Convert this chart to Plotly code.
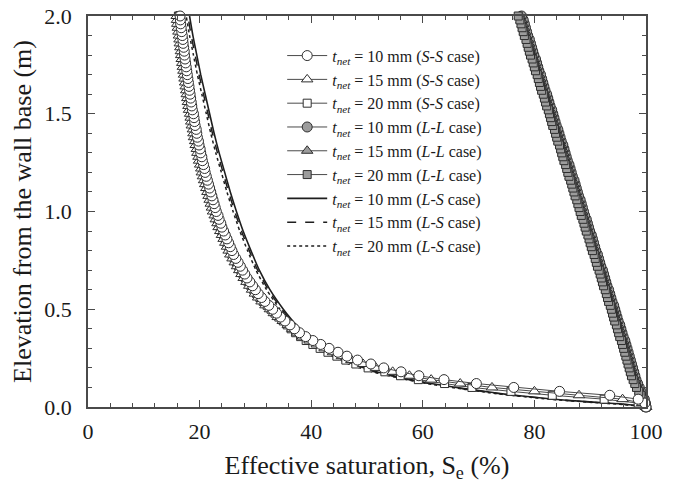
import plotly.graph_objects as go

# Elevation grid (m) for the marker series
H = [0.00, 0.02, 0.04, 0.06, 0.08, 0.10, 0.12, 0.14, 0.16, 0.18,
     0.20, 0.22, 0.24, 0.26, 0.28, 0.30, 0.32, 0.34, 0.36, 0.38,
     0.40, 0.42, 0.44, 0.46, 0.48, 0.50, 0.52, 0.54, 0.56, 0.58,
     0.60, 0.62, 0.64, 0.66, 0.68, 0.70, 0.72, 0.74, 0.76, 0.78,
     0.80, 0.82, 0.84, 0.86, 0.88, 0.90, 0.92, 0.94, 0.96, 0.98,
     1.00, 1.02, 1.04, 1.06, 1.08, 1.10, 1.12, 1.14, 1.16, 1.18,
     1.20, 1.22, 1.24, 1.26, 1.28, 1.30, 1.32, 1.34, 1.36, 1.38,
     1.40, 1.42, 1.44, 1.46, 1.48, 1.50, 1.52, 1.54, 1.56, 1.58,
     1.60, 1.62, 1.64, 1.66, 1.68, 1.70, 1.72, 1.74, 1.76, 1.78,
     1.80, 1.82, 1.84, 1.86, 1.88, 1.90, 1.92, 1.94, 1.96, 1.98, 2.00]

# S-S case, effective saturation (%)
SS10 = [100.0, 99.8, 98.6, 93.5, 84.5, 76.3, 69.6, 63.8, 59.3, 56.1, 53.0, 50.7, 48.3, 46.4, 44.8, 43.2,
        41.7, 40.3, 39.0, 37.9, 37.0, 36.2, 35.3, 34.5, 33.8, 33.1,
        32.4, 31.7, 31.1, 30.5, 30.0, 29.5, 29.0, 28.5, 28.1, 27.7, 27.3, 26.9, 26.5, 26.1, 25.8, 25.5, 25.2,
        24.9, 24.6, 24.3, 24.0, 23.8, 23.5, 23.3, 23.0,
        22.8, 22.6, 22.4, 22.2, 22.0, 21.8, 21.6, 21.4, 21.2, 21.0, 20.9, 20.7, 20.5, 20.4, 20.2, 20.1, 19.9,
        19.8, 19.6, 19.5, 19.4, 19.2, 19.1, 19.0, 18.9,
        18.7, 18.6, 18.5, 18.4, 18.3, 18.2, 18.1, 18.0, 17.9, 17.8, 17.7, 17.6, 17.5, 17.4, 17.3, 17.25, 17.15,
        17.05, 17.0, 16.9, 16.8, 16.7, 16.6, 16.55, 16.5]
SS15 = [100.0, 99.3, 95.8, 88.0, 80.0, 72.4, 66.7, 61.5, 57.6, 54.6, 51.6, 49.3, 47.2, 45.5, 43.9, 42.4,
        41.0, 39.7, 38.5, 37.5, 36.6, 35.8, 34.9, 34.0, 33.3, 32.6,
        31.8, 31.1, 30.5, 29.9, 29.4, 28.9, 28.4, 27.9, 27.5, 27.1, 26.7, 26.3, 25.9, 25.5, 25.2, 24.9, 24.6,
        24.3, 24.0, 23.7, 23.4, 23.2, 22.9, 22.7, 22.4,
        22.2, 22.0, 21.8, 21.6, 21.4, 21.2, 21.0, 20.8, 20.6, 20.4, 20.3, 20.1, 19.9, 19.8, 19.6, 19.5, 19.3,
        19.2, 19.0, 18.9, 18.8, 18.6, 18.5, 18.4, 18.3,
        18.1, 18.0, 17.9, 17.8, 17.7, 17.6, 17.5, 17.4, 17.3, 17.2, 17.1, 17.0, 16.9, 16.8, 16.7, 16.65, 16.55,
        16.45, 16.4, 16.3, 16.2, 16.1, 16.0, 15.95, 15.9]
SS20 = [100.0, 98.6, 92.5, 83.2, 75.8, 68.8, 63.9, 59.2, 56.0, 53.2, 50.2, 48.0, 46.2, 44.6, 43.0, 41.6,
        40.3, 39.1, 38.1, 37.2, 36.4, 35.7, 35.0, 34.2, 33.5, 32.8,
        32.1, 31.4, 30.8, 30.2, 29.7, 29.2, 28.7, 28.2, 27.8, 27.4, 27.0, 26.6, 26.2, 25.8, 25.5, 25.2, 24.9,
        24.6, 24.3, 24.0, 23.7, 23.5, 23.2, 23.0, 22.7,
        22.5, 22.3, 22.1, 21.9, 21.7, 21.5, 21.3, 21.1, 20.9, 20.7, 20.6, 20.4, 20.2, 20.1, 19.9, 19.8, 19.6,
        19.5, 19.3, 19.2, 19.1, 18.9, 18.8, 18.7, 18.6,
        18.4, 18.3, 18.2, 18.1, 18.0, 17.9, 17.8, 17.7, 17.6, 17.5, 17.4, 17.3, 17.2, 17.1, 17.0, 16.95, 16.85,
        16.75, 16.7, 16.6, 16.5, 16.4, 16.3, 16.25, 16.2]

# L-L case, effective saturation (%)
LL10 = [100.0, 99.9, 99.7, 99.4, 99.1, 98.8, 98.5, 98.2, 98.0, 97.8, 97.6, 97.4, 97.2, 97.0, 96.8, 96.6,
        96.4, 96.2, 95.9, 95.7, 95.5, 95.3, 95.0, 94.8, 94.6, 94.4,
        94.2, 93.9, 93.7, 93.5, 93.3, 93.0, 92.8, 92.6, 92.4, 92.2,
        91.9, 91.7, 91.5, 91.3, 91.0, 90.8, 90.6, 90.4, 90.2, 89.9,
        89.7, 89.5, 89.3, 89.0, 88.8, 88.6, 88.4, 88.2, 87.9, 87.7,
        87.5, 87.3, 87.1, 86.8, 86.6, 86.4, 86.2, 85.9, 85.7, 85.5,
        85.3, 85.1, 84.8, 84.6, 84.4, 84.2, 83.9, 83.7, 83.5, 83.3,
        83.1, 82.8, 82.6, 82.4, 82.2, 81.9, 81.7, 81.5, 81.3, 81.1,
        80.8, 80.6, 80.4, 80.2, 79.9, 79.7, 79.5, 79.3, 79.1, 78.8,
        78.6, 78.4, 78.2, 78.0, 77.7]
LL15 = [100.0, 99.8, 99.6, 99.3, 99.0, 98.6, 98.3, 98.0, 97.7, 97.5, 97.3, 97.1, 96.9, 96.7, 96.5, 96.3,
        96.1, 95.9, 95.6, 95.4, 95.2, 95.0, 94.7, 94.5, 94.3, 94.1,
        93.9, 93.6, 93.4, 93.2, 93.0, 92.7, 92.5, 92.3, 92.1, 91.9,
        91.6, 91.4, 91.2, 91.0, 90.7, 90.5, 90.3, 90.1, 89.9, 89.6,
        89.4, 89.2, 89.0, 88.7, 88.5, 88.3, 88.1, 87.9, 87.6, 87.4,
        87.2, 87.0, 86.8, 86.5, 86.3, 86.1, 85.9, 85.6, 85.4, 85.2,
        85.0, 84.8, 84.5, 84.3, 84.1, 83.9, 83.6, 83.4, 83.2, 83.0,
        82.8, 82.5, 82.3, 82.1, 81.9, 81.6, 81.4, 81.2, 81.0, 80.8,
        80.5, 80.3, 80.1, 79.9, 79.6, 79.4, 79.2, 79.0, 78.8, 78.5,
        78.3, 78.1, 77.9, 77.7, 77.4]
LL20 = [100.0, 99.7, 99.4, 99.1, 98.7, 98.3, 98.0, 97.7, 97.4, 97.2, 97.0, 96.8, 96.6, 96.4, 96.2, 96.0,
        95.8, 95.6, 95.3, 95.1, 94.9, 94.7, 94.4, 94.2, 94.0, 93.8,
        93.6, 93.3, 93.1, 92.9, 92.7, 92.4, 92.2, 92.0, 91.8, 91.6,
        91.3, 91.1, 90.9, 90.7, 90.4, 90.2, 90.0, 89.8, 89.6, 89.3,
        89.1, 88.9, 88.7, 88.4, 88.2, 88.0, 87.8, 87.6, 87.3, 87.1,
        86.9, 86.7, 86.5, 86.2, 86.0, 85.8, 85.6, 85.3, 85.1, 84.9,
        84.7, 84.5, 84.2, 84.0, 83.8, 83.6, 83.3, 83.1, 82.9, 82.7,
        82.5, 82.2, 82.0, 81.8, 81.6, 81.3, 81.1, 80.9, 80.7, 80.5,
        80.2, 80.0, 79.8, 79.6, 79.3, 79.1, 78.9, 78.7, 78.5, 78.2,
        78.0, 77.8, 77.6, 77.4, 77.1]

# L-S case (lines), elevation (m) and effective saturation (%)
HL = [0.00, 0.01, 0.02, 0.03, 0.04, 0.05, 0.06, 0.07, 0.08, 0.10, 0.12, 0.14, 0.16, 0.18, 0.20, 0.22,
      0.25, 0.28, 0.31, 0.35, 0.40, 0.45, 0.50, 0.60, 0.70, 0.80, 0.90, 1.00, 1.10, 1.20, 1.30, 1.40,
      1.50, 1.60, 1.70, 1.80, 1.90, 2.00]
LS10 = [100.0, 97.5, 93.0, 88.0, 83.5, 80.0, 76.5, 73.5, 71.0, 66.0, 61.5, 57.8, 54.7, 51.7, 49.5, 47.5,
        45.2, 43.4, 41.8, 40.0, 38.0, 36.4, 35.0, 32.6, 30.7, 29.2, 27.8, 26.6, 25.5, 24.5, 23.5, 22.6,
        21.8, 21.0, 20.2, 19.5, 18.8, 18.2]
LS15 = [100.0, 97.3, 92.6, 87.6, 83.1, 79.6, 76.1, 73.1, 70.6, 65.6, 61.1, 57.4, 54.3, 51.3, 49.1, 47.1,
        44.8, 43.0, 41.4, 39.6, 37.7, 36.1, 34.7, 32.3, 30.4, 28.9, 27.5, 26.3, 25.2, 24.2, 23.2, 22.3,
        21.5, 20.7, 19.9, 19.2, 18.5, 17.9]
LS20 = [100.0, 97.0, 92.2, 87.2, 82.7, 79.2, 75.7, 72.7, 70.2, 65.2, 60.7, 57.0, 53.9, 50.9, 48.7, 46.7,
        44.4, 42.6, 41.0, 39.2, 37.3, 35.8, 34.4, 32.0, 30.1, 28.6, 27.2, 26.0, 24.9, 23.9, 22.9, 22.0,
        21.2, 20.4, 19.6, 18.9, 18.2, 17.6]

XTICKS = [0, 20, 40, 60, 80, 100]
YTICKS = [0.0, 0.5, 1.0, 1.5, 2.0]

SERIF = "Liberation Serif, Times New Roman, serif"
EDGE = "#2e2e2e"
LL_FILL = "#9c9c9c"
AX = "#4a4a4a"
TXT = "#1a1a1a"


def label(t, case):
    a, b = case.split("-")
    return f"<i>t</i><sub><i>net</i></sub> = {t} mm (<i>{a}-{b}</i> case)"


fig = go.Figure()

# L-S lines (drawn first, under markers)
for xs, dash, t, rank, w in [(LS10, "solid", 10, 7, 1.6), (LS15, "dash", 15, 8, 1.5), (LS20, "dot", 20, 9, 1.5)]:
    fig.add_trace(go.Scatter(
        x=xs, y=HL, mode="lines", name=label(t, "L-S"), legendrank=rank,
        line=dict(color="#1e1e1e", width=w, dash=dash, shape="spline", smoothing=0.6),
    ))

# L-L markers
for xs, sym, t, rank, sz in [(LL10, "circle", 10, 4, 10), (LL15, "triangle-up", 15, 5, 10), (LL20, "square", 20, 6, 8)]:
    fig.add_trace(go.Scatter(
        x=xs, y=H, mode="lines+markers", name=label(t, "L-L"), legendrank=rank, cliponaxis=False,
        line=dict(color="#4a4a4a", width=1),
        marker=dict(symbol=sym, size=sz, color=LL_FILL, line=dict(color=EDGE, width=1)),
    ))

# S-S markers
for xs, sym, t, rank, sz in [(SS20, "square", 20, 3, 8), (SS15, "triangle-up", 15, 2, 10), (SS10, "circle", 10, 1, 10)]:
    fig.add_trace(go.Scatter(
        x=xs, y=H, mode="lines+markers", name=label(t, "S-S"), legendrank=rank, cliponaxis=False,
        line=dict(color="#4a4a4a", width=1),
        marker=dict(symbol=sym, size=sz, color="white", line=dict(color=EDGE, width=1)),
    ))

axis_common = dict(
    showline=True, linecolor=AX, linewidth=1.5, mirror="allticks",
    ticks="inside", ticklen=7, tickwidth=1.2, tickcolor=AX,
    showgrid=False, zeroline=False, automargin=False, ticklabeloverflow="allow",
    tickfont=dict(family=SERIF, size=22, color=TXT),
)

fig.update_layout(
    width=678, height=483,
    margin=dict(l=88, r=32, t=16, b=76),
    paper_bgcolor="white", plot_bgcolor="white",
    font=dict(family=SERIF, color=TXT),
    xaxis=dict(
        range=[0, 100], tickvals=XTICKS, ticktext=[str(v) for v in XTICKS],
        minor=dict(dtick=4, tick0=0, ticks="inside", ticklen=4, tickcolor=AX, tickwidth=1),
        ticklabelstandoff=4,
        title=dict(text="Effective saturation, S<sub>e</sub> (%)", font=dict(family=SERIF, size=26, color=TXT),
                   standoff=16),
        **axis_common,
    ),
    yaxis=dict(
        range=[0, 2], tickvals=YTICKS, ticktext=[f"{v:.1f}" for v in YTICKS],
        minor=dict(dtick=0.1, tick0=0, ticks="inside", ticklen=4, tickcolor=AX, tickwidth=1),
        ticklabelstandoff=10,
        title=dict(text="Elevation from the wall base (m)", font=dict(family=SERIF, size=26, color=TXT),
                   standoff=5),
        **axis_common,
    ),
    legend=dict(
        x=0.348, y=0.942, xanchor="left", yanchor="top",
        bgcolor="rgba(0,0,0,0)", borderwidth=0,
        font=dict(family=SERIF, size=16, color=TXT),
        tracegroupgap=0, itemwidth=40,
    ),
    showlegend=True,
)

# remove the default 8px page margin so the 678x483 figure fills the window exactly
fig.write_html("out.html", config={"displayModeBar": False},
               post_script="document.body.style.margin='0px';")
